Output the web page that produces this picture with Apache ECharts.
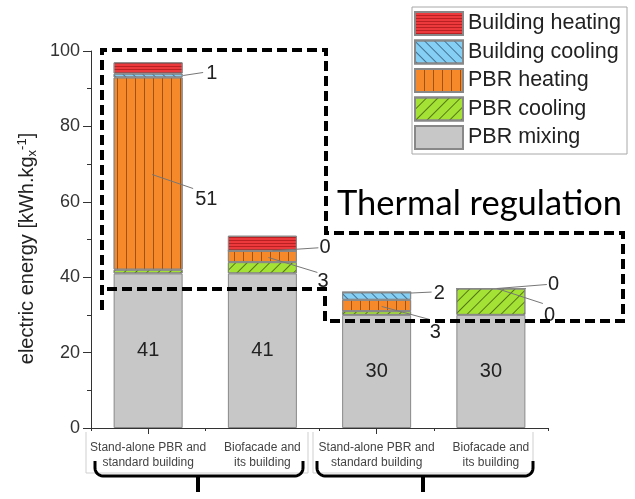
<!DOCTYPE html>
<html>
<head>
<meta charset="utf-8">
<script src="https://cdn.jsdelivr.net/npm/echarts@6/dist/echarts.min.js"></script>
<style>
  html, body { margin: 0; padding: 0; background: #fff; }
  #chart { width: 635px; height: 499px; }
</style>
</head>
<body>
<div id="chart"></div>
<script>
// Scenario labels along the x axis
const categories = [
  'Stand-alone PBR and\nstandard building',
  'Biofacade and\nits building',
  'Stand-alone PBR and\nstandard building',
  'Biofacade and\nits building'
];

// Electric energy per component [kWh per kg of biomass], stacked bottom to top
const pbrMixing       = [41, 41, 30, 30];
const pbrCooling      = [1, 3, 1, 7];
const pbrHeating      = [51, 3, 3, 0];
const buildingCooling = [1, 0, 2, 0];
const buildingHeating = [3, 4, 0, 0];

// Value axis ticks
const yTickValues = [0, 20, 40, 60, 80, 100];

const stackOrder = ['PBR mixing', 'PBR cooling', 'PBR heating', 'Building cooling', 'Building heating'];
const legendOrder = ['Building heating', 'Building cooling', 'PBR heating', 'PBR cooling', 'PBR mixing'];
const valuesByName = {
  'PBR mixing': pbrMixing,
  'PBR cooling': pbrCooling,
  'PBR heating': pbrHeating,
  'Building cooling': buildingCooling,
  'Building heating': buildingHeating
};

// Segments that get a value callout with a leader line
const calloutTargets = [
  ['Building cooling', 0],
  ['PBR heating', 0],
  ['Building cooling', 1],
  ['PBR heating', 1],
  ['Building cooling', 2],
  ['PBR heating', 2],
  ['Building cooling', 3],
  ['PBR heating', 3]
];
// Leader geometry in px: anchor dx/dy from segment middle, line end dx/dy, text left dx / middle dy (relative to anchor)
const calloutGeometry = [
  [35, 0, 20, -3, 23, -2],
  [4, 1, 41, 14, 43, 25],
  [10, 0, 46, -3, 47, -3],
  [6, 1, 49, 15, 49, 24],
  [34, -3, 21, -1, 23, 0],
  [5, 1, 48, 13, 48, 26],
  [6, 0, 50, -4, 51, -4],
  [6, 0, 46, 15, 47, 27]
];

const FONT = '"Liberation Sans", Arial, sans-serif';

const styles = {
  'Building heating': {
    color: '#ec3a3c',
    decal: { symbol: 'rect', dashArrayX: [1, 0], dashArrayY: [1, 2], color: 'rgba(120,0,0,0.45)' }
  },
  'Building cooling': {
    color: '#86cff4',
    decal: { symbol: 'rect', dashArrayX: [1, 0], dashArrayY: [1, 6], rotation: Math.PI / 4, color: 'rgba(20,50,80,0.6)' }
  },
  'PBR heating': {
    color: '#f68a2b',
    decal: { symbol: 'rect', dashArrayX: [1, 8], dashArrayY: [1, 0], color: 'rgba(90,35,0,0.55)' }
  },
  'PBR cooling': {
    color: '#a5e236',
    decal: { symbol: 'rect', dashArrayX: [1, 0], dashArrayY: [1, 7], rotation: -Math.PI / 4, color: 'rgba(30,50,0,0.6)' }
  },
  'PBR mixing': { color: '#c7c7c7', decal: null }
};

const chart = echarts.init(document.getElementById('chart'), null, { renderer: 'canvas' });

const series = stackOrder.map(function (name) {
  const st = styles[name];
  const itemStyle = { color: st.color, borderColor: '#888', borderWidth: 1 };
  if (st.decal) itemStyle.decal = st.decal;
  return {
    name: name,
    type: 'bar',
    stack: 'energy',
    barWidth: 69,
    xAxisIndex: 0,
    yAxisIndex: 0,
    data: valuesByName[name],
    itemStyle: itemStyle,
    emphasis: { disabled: true },
    label: name === 'PBR mixing' ? {
      show: true, position: 'inside', color: '#222', fontSize: 20, fontFamily: FONT
    } : { show: false }
  };
});

const option = {
  animation: false,
  backgroundColor: '#fff',
  grid: { left: 91, right: 87, top: 51, bottom: 71, containLabel: false },
  legend: {
    data: legendOrder,
    orient: 'vertical',
    left: 412,
    top: 7,
    padding: [4, 6, 4, 2],
    itemWidth: 48,
    itemHeight: 23,
    itemGap: 3.5,
    icon: 'rect',
    borderColor: '#a8a8a8',
    borderWidth: 1,
    backgroundColor: '#fff',
    textStyle: { fontSize: 21.5, color: '#222', fontFamily: FONT }
  },
  xAxis: [
    {
      type: 'category',
      data: categories,
      position: 'bottom',
      axisLine: { show: true, lineStyle: { color: '#333', width: 1 } },
      axisTick: { show: true, alignWithLabel: false, length: 3, lineStyle: { color: '#333' } },
      axisLabel: { fontSize: 12, lineHeight: 15, color: '#444', fontFamily: FONT, margin: 12, interval: 0 }
    },
    {
      type: 'category',
      data: categories,
      position: 'bottom',
      axisLine: { show: false },
      axisTick: { show: true, alignWithLabel: true, length: 6, lineStyle: { color: '#333' } },
      axisLabel: { show: false }
    }
  ],
  yAxis: {
    type: 'value',
    min: yTickValues[0],
    max: yTickValues[yTickValues.length - 1],
    interval: yTickValues[1] - yTickValues[0],
    name: '{a|electric energy [kWh.kg}{sub|x}{sup|-1}{a|]}',
    nameLocation: 'middle',
    nameGap: 48,
    nameRotate: 90,
    nameTextStyle: {
      padding: [0, 18, 0, 0],
      rich: {
        a: { fontSize: 20, color: '#222', fontFamily: FONT },
        sub: { fontSize: 13, color: '#222', fontFamily: FONT, padding: [10, 0, 0, 0] },
        sup: { fontSize: 13, color: '#222', fontFamily: FONT, padding: [0, 0, 10, 0] }
      }
    },
    axisLine: { show: true, lineStyle: { color: '#333', width: 1 } },
    axisTick: { show: true, length: 8, lineStyle: { color: '#333' } },
    minorTick: { show: true, splitNumber: 2, length: 4, lineStyle: { color: '#333' } },
    splitLine: { show: false },
    axisLabel: { fontSize: 18, color: '#333', fontFamily: FONT, margin: 11 }
  },
  series: series
};

chart.setOption(option);

// Stack extent of one segment
function segmentExtent(name, cat) {
  let base = 0;
  for (const n of stackOrder) {
    const v = valuesByName[n][cat];
    if (n === name) return [base, base + v];
    base += v;
  }
  return [base, base];
}

const graphics = [];

// Callout leaders and values
calloutTargets.forEach(function (t, i) {
  const name = t[0], cat = t[1];
  const ext = segmentExtent(name, cat);
  const p = chart.convertToPixel({ seriesIndex: 0 }, [cat, (ext[0] + ext[1]) / 2]);
  const g = calloutGeometry[i];
  const ax = p[0] + g[0], ay = p[1] + g[1];
  graphics.push({
    type: 'polyline', z: 60,
    shape: { points: [[ax, ay], [ax + g[2], ay + g[3]]] },
    style: { stroke: '#777', lineWidth: 1, fill: null }
  });
  graphics.push({
    type: 'text', z: 61,
    x: ax + g[4], y: ay + g[5],
    style: {
      text: String(valuesByName[name][cat]),
      font: '20px ' + FONT, fill: '#222',
      textAlign: 'left', textVerticalAlign: 'middle'
    }
  });
});

// Light frames around each pair of scenario labels
[[86, 308], [313, 533]].forEach(function (b) {
  graphics.push({
    type: 'polyline', z: 40,
    shape: { points: [[b[0], 432], [b[0], 473], [b[1], 473], [b[1], 432]] },
    style: { stroke: '#cfcfcf', lineWidth: 1, fill: null }
  });
});

// Rounded corner as a short run of points (quarter circle)
function corner(cx, cy, r, a0, a1) {
  const pts = [];
  for (let k = 0; k <= 6; k++) {
    const a = a0 + (a1 - a0) * k / 6;
    pts.push([cx + r * Math.cos(a), cy + r * Math.sin(a)]);
  }
  return pts;
}

// Curly braces grouping the scenarios
[[95, 198, 303], [317, 423, 533]].forEach(function (b) {
  const r = 8, yb = 476, yt = 461;
  const pts = [[b[0], yt]]
    .concat(corner(b[0] + r, yb - r, r, Math.PI, Math.PI / 2))
    .concat(corner(b[2] - r, yb - r, r, Math.PI / 2, 0))
    .concat([[b[2], yt]]);
  graphics.push({
    type: 'polyline', z: 45,
    shape: { points: pts },
    style: { stroke: '#000', lineWidth: 3, fill: null, lineJoin: 'round' }
  });
  graphics.push({
    type: 'line', z: 45,
    shape: { x1: b[1], y1: yb, x2: b[1], y2: 492 },
    style: { stroke: '#000', lineWidth: 4 }
  });
});

// Dashed outline of the thermal-regulation share
graphics.push({
  type: 'polyline', z: 70,
  shape: { points: [[102, 310], [102, 50], [326, 50], [326, 233], [623, 233], [623, 321], [325, 321], [325, 289], [105, 289]] },
  style: { stroke: '#000', lineWidth: 4, lineDash: [10, 5], fill: null }
});

graphics.push({
  type: 'text', z: 70,
  x: 337, y: 204,
  style: {
    text: 'Thermal regulation',
    font: '34.5px Lato, "Open Sans", sans-serif',
    fill: '#000', textAlign: 'left', textVerticalAlign: 'middle'
  }
});

chart.setOption({ graphic: { elements: graphics } });
</script>
</body>
</html>
